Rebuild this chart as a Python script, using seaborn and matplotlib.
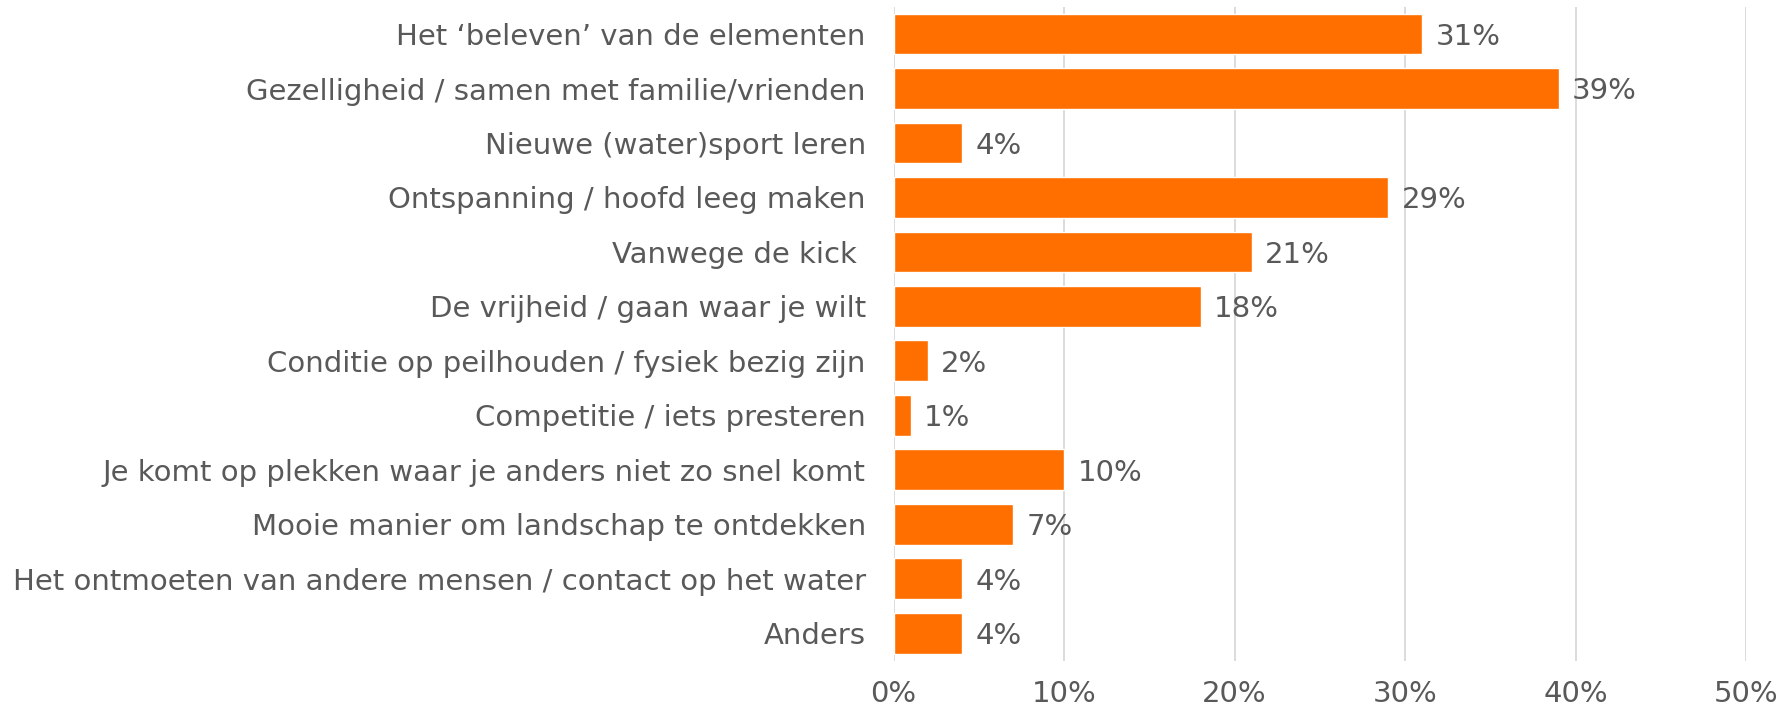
import matplotlib
matplotlib.use("Agg")
import matplotlib.pyplot as plt
import seaborn as sns
import pandas as pd
from matplotlib.ticker import FuncFormatter

# data
categories = [
    "Het \u2018beleven\u2019 van de elementen",
    "Gezelligheid / samen met familie/vrienden",
    "Nieuwe (water)sport leren",
    "Ontspanning / hoofd leeg maken",
    "Vanwege de kick ",
    "De vrijheid / gaan waar je wilt",
    "Conditie op peilhouden / fysiek bezig zijn",
    "Competitie / iets presteren",
    "Je komt op plekken waar je anders niet zo snel komt",
    "Mooie manier om landschap te ontdekken",
    "Het ontmoeten van andere mensen / contact op het water",
    "Anders",
]
percent = [31, 39, 4, 29, 21, 18, 2, 1, 10, 7, 4, 4]
xticks = [0, 10, 20, 30, 40, 50]

df = pd.DataFrame({"reden": categories, "pct": percent})

sns.set_style("white")
plt.rcParams["font.family"] = ["DejaVu Sans"]
gray = "#595959"

fig = plt.figure(figsize=(17.8, 7.13), dpi=100)
ax = fig.add_axes([0.502, 0.0735, 0.479, 0.917])

sns.barplot(data=df, x="pct", y="reden", color="#FF6F00", saturation=1,
            width=0.75, orient="h", ax=ax, zorder=3)

ax.set_xlim(0, 50)
ax.set_xticks(xticks)
ax.xaxis.set_major_formatter(FuncFormatter(lambda v, p: f"{v:.0f}%"))
ax.grid(axis="x", color="#D9D9D9", linewidth=1.3, zorder=0)
ax.set_axisbelow(True)
for s in ax.spines.values():
    s.set_visible(False)
ax.set_xlabel("")
ax.set_ylabel("")
ax.tick_params(axis="both", length=0, colors=gray, labelsize=21)
ax.tick_params(axis="y", pad=20)
ax.tick_params(axis="x", pad=14)

for i, v in enumerate(percent):
    ax.text(v + 0.8, i + 0.05, f"{v}%", va="center", ha="left",
            fontsize=21, color=gray)

fig.savefig("out.png", dpi=100)
